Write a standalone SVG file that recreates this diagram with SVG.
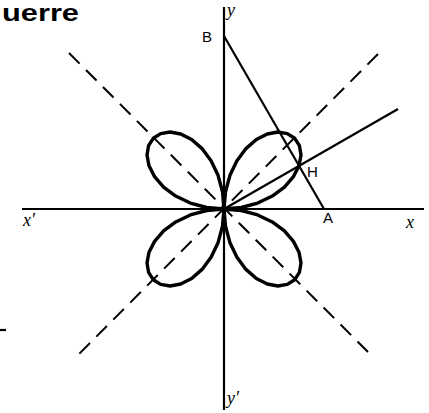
<svg xmlns="http://www.w3.org/2000/svg" xmlns:xlink="http://www.w3.org/1999/xlink" width="429" height="413" viewBox="0 0 429 413">
<style>
.ln{stroke:#000;stroke-width:2.2;fill:none;stroke-linecap:butt}
.dash{stroke:#000;stroke-width:2;fill:none;stroke-dasharray:15 9}
.rose{stroke:#000;stroke-width:3.4;fill:none;stroke-linejoin:round}
.lab{font-family:"Liberation Sans","DejaVu Sans",sans-serif;font-size:15px;fill:#000}
.ax{font-family:"Liberation Serif","DejaVu Serif",serif;font-style:italic;font-size:18px;fill:#000}
.title{font-family:"Liberation Sans","DejaVu Sans",sans-serif;font-weight:bold;font-size:23px;fill:#000}
</style>
<defs>
<polyline id="petal" points="0,0 17.30,-1.51 33.68,-5.94 48.30,-12.94 60.40,-21.98 69.43,-32.37 75.00,-43.30 76.98,-53.90 75.44,-63.30 70.71,-70.71 63.30,-75.44 53.90,-76.98 43.30,-75.00 32.37,-69.43 21.98,-60.40 12.94,-48.30 5.94,-33.68 1.51,-17.30 0,0"/>
</defs>
<rect width="429" height="413" fill="#fff"/>
<text class="title" x="2" y="21" textLength="77" lengthAdjust="spacingAndGlyphs">uerre</text>
<g id="connectors">
<line class="dash" x1="69" y1="53" x2="368" y2="352"/>
<line class="dash" x1="378" y1="54" x2="77" y2="356"/>
<line class="ln" x1="224" y1="7" x2="224" y2="410"/>
<line class="ln" x1="22" y1="209" x2="424" y2="209"/>
<line class="ln" x1="224" y1="36" x2="324" y2="209"/>
<line class="ln" x1="224" y1="209" x2="398" y2="109"/>
<line class="ln" x1="0" y1="330" x2="6" y2="330" stroke-width="1.5"/>
</g>
<g id="rose" transform="translate(224,209)">
<use xlink:href="#petal" href="#petal" class="rose"/>
<use xlink:href="#petal" href="#petal" class="rose" transform="rotate(90)"/>
<use xlink:href="#petal" href="#petal" class="rose" transform="rotate(180)"/>
<use xlink:href="#petal" href="#petal" class="rose" transform="rotate(270)"/>
</g>
<g id="labels">
<text class="ax" x="227" y="16">y</text>
<text class="lab" x="202" y="42">B</text>
<text class="lab" x="307" y="177">H</text>
<text class="lab" x="323" y="223">A</text>
<text class="ax" x="406" y="228">x</text>
<text class="ax" x="23" y="226">x′</text>
<text class="ax" x="227" y="404">y′</text>
</g>
</svg>
